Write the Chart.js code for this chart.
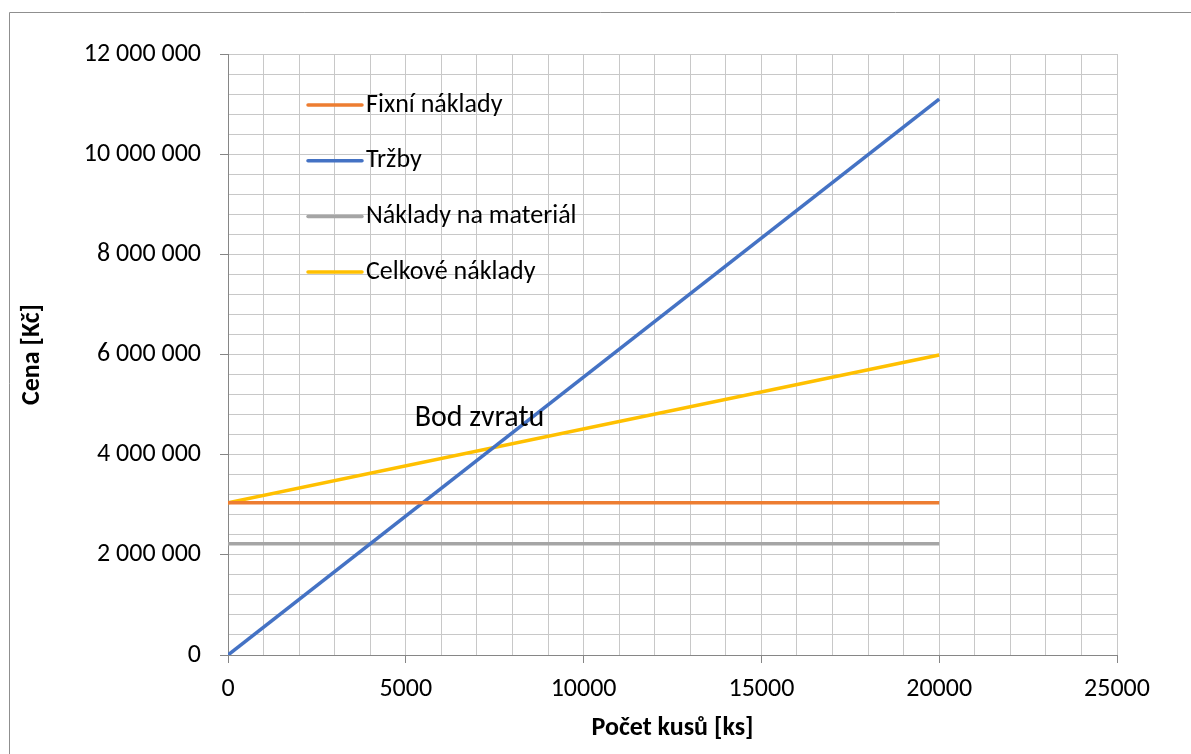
<!DOCTYPE html>
<html lang="cs">
<head>
<meta charset="utf-8">
<title>Bod zvratu</title>
<script src="https://cdn.jsdelivr.net/npm/chart.js@4/dist/chart.umd.min.js"></script>
<style>
  html, body { margin: 0; padding: 0; background: #ffffff; }
  #wrap { width: 1191px; height: 754px; position: relative; }
</style>
</head>
<body>
<div id="wrap"><canvas id="c" width="1191" height="754"></canvas></div>
<script>
// Počet kusů – body, ve kterých jsou řady zadány
const kusy = [0, 20000];

// Hodnoty řad v Kč
const fixniNaklady = [3040000, 3040000];
const trzby = [0, 11100000];
const nakladyMaterial = [2220000, 2220000];
const celkoveNaklady = [3040000, 5990000];

// Názvy řad a barvy
const nazvyRad = ['Fixní náklady', 'Tržby', 'Náklady na materiál', 'Celkové náklady'];
const barvyRad = ['#ED7D31', '#4472C4', '#A5A5A5', '#FFC000'];
const hodnotyRad = [fixniNaklady, trzby, nakladyMaterial, celkoveNaklady];

// Popisky os a poznámka
const popisX = 'Počet kusů [ks]';
const popisY = 'Cena [Kč]';
const poznamka = 'Bod zvratu';
const poznamkaX = 5250;
const poznamkaY = 4730000;

const FONT = 'Carlito, Calibri, Lato, "Liberation Sans", sans-serif';

function formatCZ(v) {
  return String(Math.round(v)).replace(/\B(?=(\d{3})+(?!\d))/g, ' ');
}

const datasets = hodnotyRad.map((vals, i) => ({
  label: nazvyRad[i],
  data: kusy.map((x, j) => ({ x: x, y: vals[j] })),
  borderColor: barvyRad[i],
  backgroundColor: barvyRad[i],
  borderWidth: 3.5,
  showLine: true,
  pointRadius: 0,
  pointHoverRadius: 0,
  borderCapStyle: 'butt'
}));

// Rámeček grafu
const ramecek = {
  id: 'ramecek',
  beforeDraw(chart) {
    const c = chart.ctx;
    c.save();
    c.fillStyle = '#ffffff';
    c.fillRect(0, 0, chart.width, chart.height);
    c.strokeStyle = '#8f8f8f';
    c.lineWidth = 1;
    c.beginPath();
    c.moveTo(9.5, chart.height);
    c.lineTo(9.5, 12.5);
    c.lineTo(chart.width, 12.5);
    c.stroke();
    c.restore();
  }
};

// Legenda uvnitř plochy grafu
const legendaUvnitr = {
  id: 'legendaUvnitr',
  afterDatasetsDraw(chart) {
    const c = chart.ctx;
    const x0 = 308, x1 = 362, tx = 366, y0 = 105, krok = 55.7;
    c.save();
    c.font = '26px ' + FONT;
    c.textBaseline = 'middle';
    c.textAlign = 'left';
    chart.data.datasets.forEach((ds, i) => {
      const y = y0 + i * krok;
      c.strokeStyle = ds.borderColor;
      c.lineWidth = 3.5;
      c.lineCap = 'round';
      c.beginPath();
      c.moveTo(x0, y);
      c.lineTo(x1, y);
      c.stroke();
      c.fillStyle = '#000000';
      c.fillText(ds.label, tx, y);
    });
    // poznámka u průsečíku
    const sx = chart.scales.x, sy = chart.scales.y;
    c.font = '30px ' + FONT;
    c.fillText(poznamka, sx.getPixelForValue(poznamkaX), sy.getPixelForValue(poznamkaY));
    c.restore();
  }
};

new Chart(document.getElementById('c'), {
  type: 'scatter',
  data: { datasets },
  options: {
    responsive: false,
    animation: false,
    events: [],
    layout: { padding: { top: 54, right: 74, bottom: 0, left: 0 } },
    plugins: {
      legend: { display: false },
      tooltip: { enabled: false },
      title: { display: false }
    },
    scales: {
      x: {
        type: 'linear',
        min: 0,
        max: 25000,
        afterFit(scale) { scale.height = 99; },
        ticks: {
          stepSize: 1000,
          autoSkip: false,
          maxRotation: 0,
          padding: 11,
          color: '#000000',
          font: { family: FONT, size: 26 },
          callback: v => (v % 5000 === 0 ? String(v) : '')
        },
        grid: {
          color: '#c8c8c8',
          lineWidth: 1,
          tickLength: 8,
          tickColor: ctx => (ctx.tick && ctx.tick.value % 5000 === 0 ? '#868686' : 'rgba(0,0,0,0)')
        },
        border: { color: '#868686', width: 1 },
        title: {
          display: true,
          text: popisX,
          color: '#000000',
          font: { family: FONT, size: 26, weight: 'bold' },
          padding: { top: 0, bottom: 10 }
        }
      },
      y: {
        min: 0,
        max: 12000000,
        afterFit(scale) { scale.width = 228; },
        ticks: {
          stepSize: 400000,
          autoSkip: false,
          padding: 19,
          color: '#000000',
          font: { family: FONT, size: 26 },
          callback: v => (v % 2000000 === 0 ? formatCZ(v) : '')
        },
        grid: {
          color: '#c8c8c8',
          lineWidth: 1,
          tickLength: 8,
          tickColor: ctx => (ctx.tick && ctx.tick.value % 2000000 === 0 ? '#868686' : 'rgba(0,0,0,0)')
        },
        border: { color: '#868686', width: 1 },
        title: {
          display: true,
          text: popisY,
          color: '#000000',
          font: { family: FONT, size: 26, weight: 'bold' },
          padding: { top: 17, bottom: 0 }
        }
      }
    }
  },
  plugins: [ramecek, legendaUvnitr]
});
</script>
</body>
</html>
